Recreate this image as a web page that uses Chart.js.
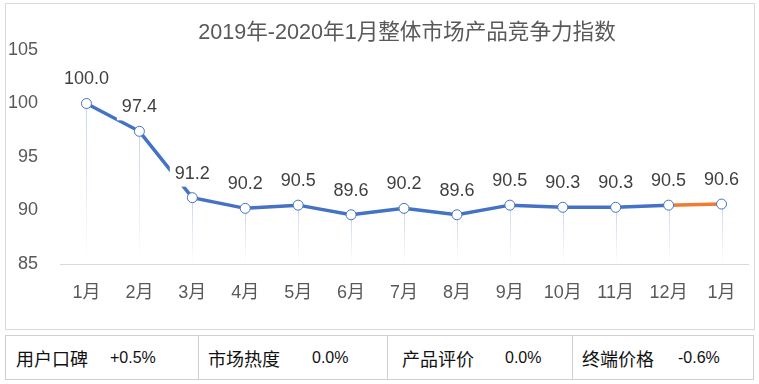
<!DOCTYPE html>
<html><head><meta charset="utf-8">
<script src="https://cdn.jsdelivr.net/npm/chart.js@4"></script>
<style>
body{margin:0;background:#fff;width:759px;height:384px;overflow:hidden;position:relative;font-family:"Liberation Sans","Noto Sans CJK SC",sans-serif;}
#box{position:absolute;left:5px;top:3px;width:750px;height:327px;border:1px solid #D9D9D9;box-sizing:border-box;}
#box canvas{display:block;}
#tbl{position:absolute;left:5px;top:335px;width:749px;height:45px;border:1px solid #CFCFCF;box-sizing:border-box;}
.div{position:absolute;top:335px;height:45px;width:1px;background:#CFCFCF;}
.t{position:absolute;top:346px;font-size:18px;line-height:24px;color:#111;white-space:nowrap;font-family:"Noto Sans CJK SC","Liberation Sans",sans-serif;}
.v{position:absolute;top:346px;font-size:16px;line-height:24px;color:#111;white-space:nowrap;font-family:"Liberation Sans","Noto Sans CJK SC",sans-serif;}
</style></head>
<body>
<div id="box"><canvas id="c" width="748" height="325"></canvas></div>
<div id="tbl"></div>
<div class="div" style="left:198px"></div>
<div class="div" style="left:387px"></div>
<div class="div" style="left:572px"></div>
<div id="cells"></div>
<script>
const categories = ['1月','2月','3月','4月','5月','6月','7月','8月','9月','10月','11月','12月','1月'];
const indexValues = [100.0, 97.4, 91.2, 90.2, 90.5, 89.6, 90.2, 89.6, 90.5, 90.3, 90.3, 90.5, 90.6];
const yTicks = [85, 90, 95, 100, 105];
const titleText = '2019年-2020年1月整体市场产品竞争力指数';
const tableLabels = ['用户口碑', '市场热度', '产品评价', '终端价格'];
const tableValues = ['+0.5%', '0.0%', '0.0%', '-0.6%'];

const labelX = [16, 208, 402, 582];
const valueX = [110, 312, 505, 678];
const cells = document.getElementById('cells');
tableLabels.forEach((t, i) => {
  const a = document.createElement('div'); a.className = 't'; a.style.left = labelX[i] + 'px'; a.textContent = t; cells.appendChild(a);
  const b = document.createElement('div'); b.className = 'v'; b.style.left = valueX[i] + 'px'; b.textContent = tableValues[i]; cells.appendChild(b);
});

const FONT = '"Liberation Sans","Noto Sans CJK SC",sans-serif';

const dropLines = {
  id: 'dropLines',
  beforeDatasetsDraw(chart) {
    const ctx = chart.ctx, meta = chart.getDatasetMeta(0), bottom = chart.chartArea.bottom;
    ctx.save();
    meta.data.forEach(p => {
      const g = ctx.createLinearGradient(0, p.y, 0, bottom);
      g.addColorStop(0, 'rgba(180,199,231,0.75)');
      g.addColorStop(1, 'rgba(180,199,231,0)');
      ctx.strokeStyle = g; ctx.lineWidth = 1;
      ctx.beginPath(); ctx.moveTo(Math.round(p.x) + 0.5, p.y); ctx.lineTo(Math.round(p.x) + 0.5, bottom); ctx.stroke();
    });
    ctx.restore();
  }
};

const dataLabels = {
  id: 'dataLabels',
  afterDatasetsDraw(chart) {
    const ctx = chart.ctx, meta = chart.getDatasetMeta(0);
    ctx.save();
    ctx.font = '18px ' + FONT;
    ctx.textAlign = 'center'; ctx.textBaseline = 'middle';
    meta.data.forEach((p, i) => {
      const txt = indexValues[i].toFixed(1);
      const w = ctx.measureText(txt).width;
      const cy = p.y - 24;
      ctx.fillStyle = '#fff';
      ctx.fillRect(p.x - w / 2 - 5, cy - 13, w + 10, 26);
      ctx.fillStyle = '#404040';
      ctx.fillText(txt, p.x, cy);
    });
    ctx.restore();
  }
};

const titlePlugin = {
  id: 'titlePlugin',
  afterDraw(chart) {
    const ctx = chart.ctx, a = chart.chartArea;
    ctx.save();
    ctx.font = '21.6px ' + FONT;
    ctx.fillStyle = '#595959';
    ctx.textAlign = 'center'; ctx.textBaseline = 'middle';
    ctx.fillText(titleText, (a.left + a.right) / 2 + 3, 29);
    ctx.restore();
  }
};

new Chart(document.getElementById('c'), {
  type: 'line',
  data: {
    labels: categories,
    datasets: [{
      data: indexValues,
      borderColor: '#4472C4',
      borderWidth: 3.5,
      segment: { borderColor: c => c.p1DataIndex === indexValues.length - 1 ? '#ED7D31' : '#4472C4' },
      pointRadius: 5,
      pointHoverRadius: 5,
      pointBackgroundColor: '#fff',
      pointBorderColor: '#4472C4',
      pointBorderWidth: 1,
      tension: 0,
      clip: false
    }]
  },
  options: {
    responsive: false,
    devicePixelRatio: 1,
    animation: false,
    events: [],
    layout: { padding: { top: 46, right: 1, left: 0, bottom: 0 } },
    plugins: { legend: { display: false }, title: { display: false }, tooltip: { enabled: false } },
    scales: {
      x: {
        type: 'category',
        offset: true,
        grid: { display: false, drawTicks: false, tickLength: 0 },
        border: { display: true, color: '#D9D9D9', width: 1 },
        ticks: { padding: 18, color: '#595959', font: { size: 18, family: FONT }, maxRotation: 0, autoSkip: false },
        afterFit: s => { s.height = 65; }
      },
      y: {
        min: yTicks[0], max: yTicks[yTicks.length - 1],
        afterBuildTicks: s => { s.ticks = yTicks.map(v => ({ value: v })); },
        grid: { display: false, drawTicks: false, tickLength: 0 },
        border: { display: false },
        ticks: { padding: 22, color: '#595959', font: { size: 18, family: FONT } },
        afterFit: s => { s.width = 54; }
      }
    }
  },
  plugins: [dropLines, dataLabels, titlePlugin]
});
</script>
</body></html>
